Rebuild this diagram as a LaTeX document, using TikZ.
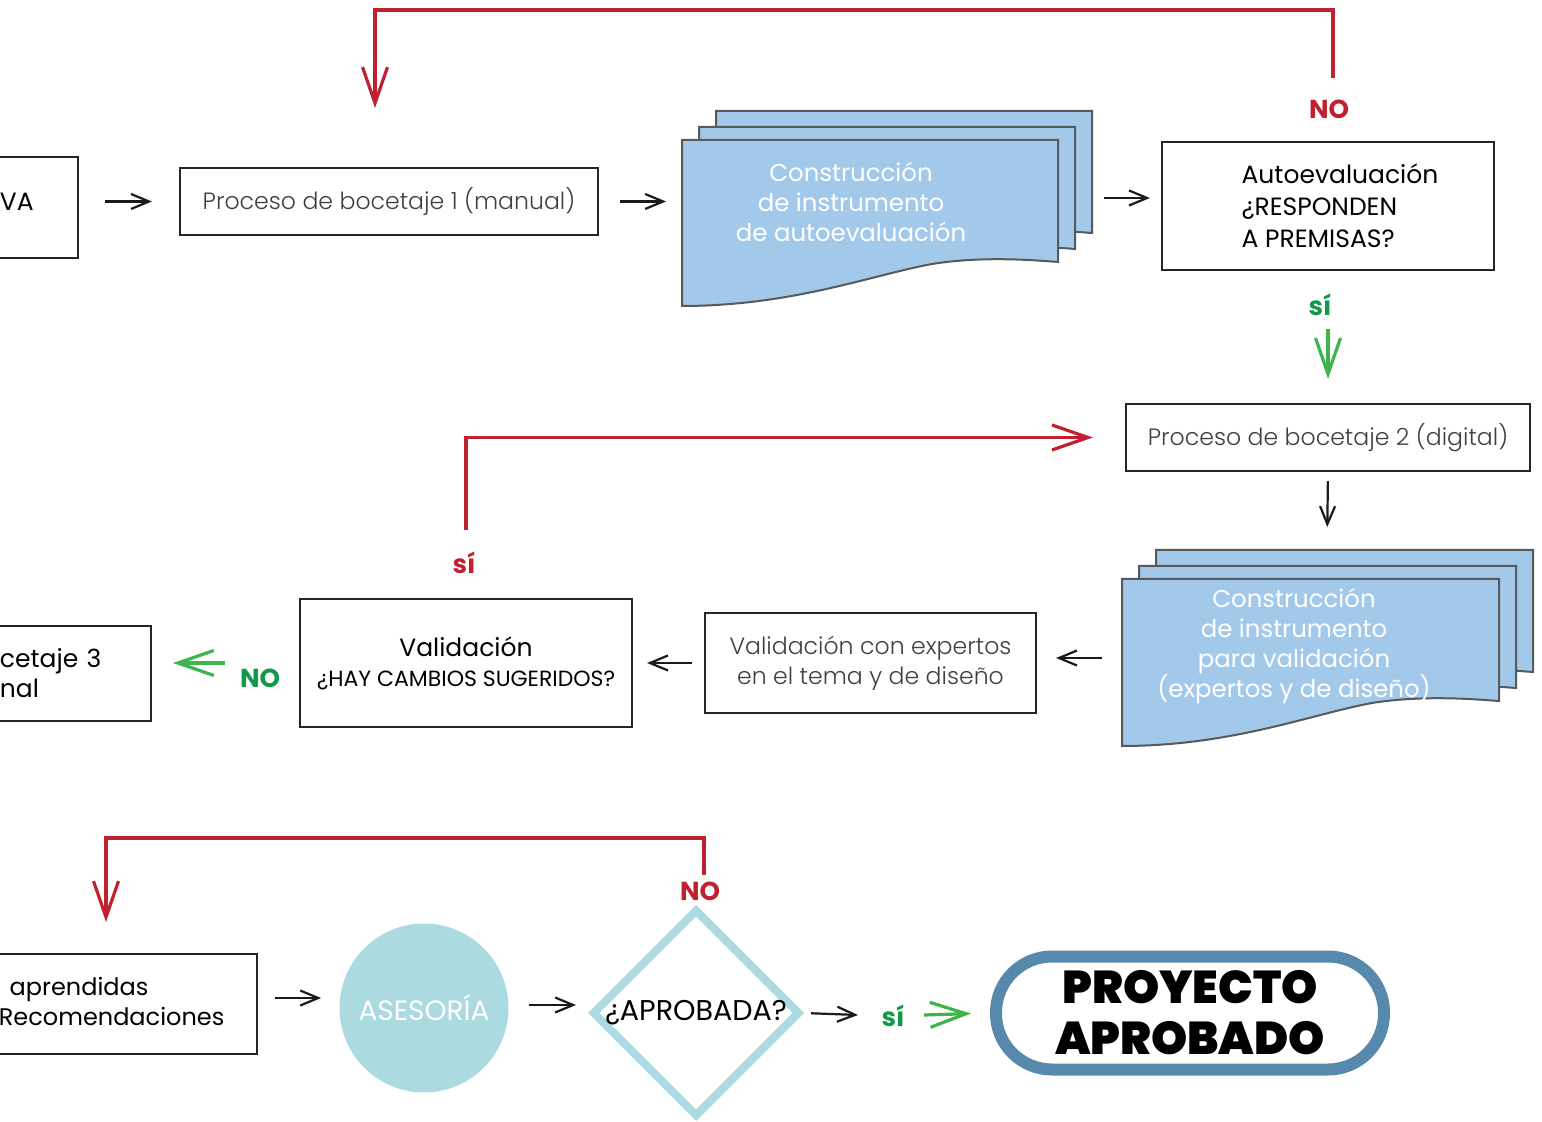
\documentclass[tikz,border=0pt]{standalone}
\usepackage{fontspec}
\setmainfont{Poppins}
\newfontfamily\lightfont{Poppins Light}
\newfontfamily\blackfont{Poppins Black}
\usepackage[HTML]{xcolor}
\usepackage{tikz}
\usetikzlibrary{positioning, arrows, arrows.meta, shapes.geometric}

\definecolor{redline}{HTML}{C1202F}
\definecolor{greenarrow}{HTML}{3DB54A}
\definecolor{greentext}{HTML}{109A47}
\definecolor{sheetblue}{HTML}{A2C8EA}
\definecolor{sheetedge}{HTML}{58595B}
\definecolor{asesoria}{HTML}{ABDAE0}
\definecolor{pillblue}{HTML}{5789AC}

\begin{document}
\begin{tikzpicture}[x=0.5pt, y=-0.5pt,
  box/.style={draw=black!85, line width=1.1pt, inner sep=0pt, font=\fontsize{12.5}{15}\selectfont},
  lite/.style={text=black!75, font=\lightfont\fontsize{11.8}{15}\selectfont},
  arr/.style={draw=black!90, line width=1.1pt, -{Straight Barb[length=9pt, width=7.5pt]}},
  redarr/.style={draw=redline, line width=1.6pt, -{Straight Barb[length=18pt, width=12.5pt]}},
  greenarr/.style={draw=greenarrow, line width=1.6pt, -{Straight Barb[length=18pt, width=12.5pt]}},
  sheet/.style={fill=sheetblue, draw=sheetedge, line width=1pt},
  sheettext/.style={text=white, align=center, font=\fontsize{12.2}{15}\selectfont},
  nolabel/.style={text=redline, font=\fontsize{13}{15}\selectfont\bfseries},
  silabel/.style={text=greentext, font=\fontsize{13}{15}\selectfont\bfseries}]
\path[use as bounding box, fill=white] (0,0) rectangle (1542,1122);

% Row 1
\node[box, anchor=east, inner xsep=10pt, text width=29pt, align=left, minimum height=50.5pt] (va) at (79,207.5) {\raisebox{6pt}{VA}};
\node[box, lite, minimum width=209pt, minimum height=33.5pt] (boc1) at (389,201.5) {Proceso de bocetaje 1 (manual)};

% Stack 1
\filldraw[sheet, shift={(716,111)}] (0,0) -- (376,0) -- (376,122) .. controls (350,120) and (300,116) .. (250,124) .. controls (190,135) and (110,166) .. (0,166) -- cycle;
\filldraw[sheet, shift={(699,127)}] (0,0) -- (376,0) -- (376,122) .. controls (350,120) and (300,116) .. (250,124) .. controls (190,135) and (110,166) .. (0,166) -- cycle;
\filldraw[sheet, shift={(682,140)}] (0,0) -- (376,0) -- (376,122) .. controls (350,120) and (300,116) .. (250,124) .. controls (190,135) and (110,166) .. (0,166) -- cycle;
\node[sheettext] (doc1) at (851,202) {Construcción\\de instrumento\\de autoevaluación};
\coordinate (doc1w) at (682,201.5);
\coordinate (doc1e) at (1092,198);

\node[box, align=left, minimum width=166pt, minimum height=64pt, font=\fontsize{12.5}{16}\selectfont] (auto) at (1328,206) {\hspace*{12pt}Autoevaluación\\\hspace*{12pt}¿RESPONDEN\\\hspace*{12pt}A PREMISAS?};
\node[nolabel] (no1) at (1329,109) {NO};

\draw[arr, shorten <=13pt, shorten >=13.5pt] (va.east |- boc1.west) -- (boc1.west);
\draw[arr, shorten <=10.5pt, shorten >=8pt] (boc1.east) -- (doc1w);
\draw[arr, shorten <=6pt, shorten >=5.5pt] (doc1e) -- (auto.west |- doc1e);

% Loop back to bocetaje 1
\coordinate (out1) at (1333,78);
\coordinate (in1) at (375,108);
\draw[redarr] (out1) -- ++(0,-68) -| (in1);

% Row 2
\node[silabel] (si1) at (1320,305) {sí};
\node[box, lite, minimum width=202pt, minimum height=33.5pt] (boc2) at (1328,437.5) {Proceso de bocetaje 2 (digital)};
\draw[greenarr, shorten <=29pt, shorten >=12pt] (auto.south) -- (boc2.north);

\coordinate (out2) at (466,530);
\node[nolabel] (si2) at (464,563) {sí};
\draw[redarr, shorten >=16pt] (out2) |- (boc2.west);

% Stack 2
\filldraw[sheet, shift={(1156,550)}] (0,0) -- (377,0) -- (377,122) .. controls (350,120) and (300,116) .. (250,124) .. controls (190,135) and (110,167) .. (0,167) -- cycle;
\filldraw[sheet, shift={(1139,566)}] (0,0) -- (377,0) -- (377,122) .. controls (350,120) and (300,116) .. (250,124) .. controls (190,135) and (110,167) .. (0,167) -- cycle;
\filldraw[sheet, shift={(1122,579)}] (0,0) -- (377,0) -- (377,122) .. controls (350,120) and (300,116) .. (250,124) .. controls (190,135) and (110,167) .. (0,167) -- cycle;
\node[sheettext] (doc2) at (1294,646) {Construcción\\de instrumento\\para validación\\(expertos y de diseño)};
\coordinate (doc2n) at (1327,550);
\coordinate (doc2w) at (1122,658);
\draw[arr, shorten <=4.5pt, shorten >=11.5pt] (boc2.south) -- (doc2n);

\node[box, lite, align=center, minimum width=165.5pt, minimum height=50pt] (expert) at (870.5,663) {Validación con expertos\\en el tema y de diseño};
\node[box, align=center, minimum width=166pt, minimum height=64pt] (valid) at (466,663) {Validación\\[0pt]{\fontsize{11}{12}\selectfont ¿HAY CAMBIOS SUGERIDOS?}};
\node[box, anchor=east, align=left, inner xsep=10pt, text width=65.5pt, minimum height=47.5pt] (boc3) at (152,673.5) {cetaje 3\\nal};
\node[silabel] (no2) at (260,678) {NO};

\draw[arr, shorten <=10pt, shorten >=9.5pt] (doc2w) -- (expert.east |- doc2w);
\draw[arr, shorten <=6pt, shorten >=7pt] (expert.west) -- (valid.east);
\draw[greenarr, shorten <=37pt, shorten >=10.5pt] (valid.west) -- (valid.west -| boc3.east);

% Row 3
\node[box, anchor=east, align=left, inner xsep=10pt, text width=119pt, minimum height=50pt, font=\fontsize{12}{15}\selectfont] (lessons) at (258,1004) {\raisebox{6pt}{\begin{tabular}{@{}l@{}}\hspace*{0.45em}aprendidas\\Recomendaciones\end{tabular}}};
\node[circle, fill=asesoria, text=white, minimum size=84.5pt, inner sep=0pt, font=\fontsize{14}{15}\selectfont] (ases) at (424,1008) {ASESORÍA};
\node[diamond, draw=asesoria, line width=4pt, minimum size=104pt, inner sep=0pt, label={[font=\fontsize{14.3}{16}\selectfont]center:¿APROBADA?}] (aprob) at (696,1013) {};
\node[nolabel] (no3) at (700,891) {NO};
\node[silabel] (si3) at (893,1016) {sí};
\node[draw=pillblue, line width=6pt, rounded corners=28pt, minimum width=194pt, minimum height=56.5pt, align=center, font=\blackfont\fontsize{23}{25.5}\selectfont] (final) at (1190,1013) {PROYECTO\\APROBADO};

\draw[arr, shorten <=8.5pt, shorten >=9pt] (lessons.east |- 0,998) -- (ases.west |- 0,998);
\draw[arr, shorten <=10pt, shorten >=6pt] (ases.east |- 0,1005) -- (aprob.west |- 0,1005);
\coordinate (yes3) at (858,1015);
\coordinate (g3) at (924,1015);
\draw[arr, shorten <=3.5pt] (aprob.east) -- (yes3);
\draw[greenarr, shorten >=9.5pt] (g3) -- (final.west);

% Loop back to lecciones
\coordinate (out3) at (704,875);
\coordinate (in3) at (106,922);
\draw[redarr] (out3) -- ++(0,-37) -| (in3);
\end{tikzpicture}
\end{document}
